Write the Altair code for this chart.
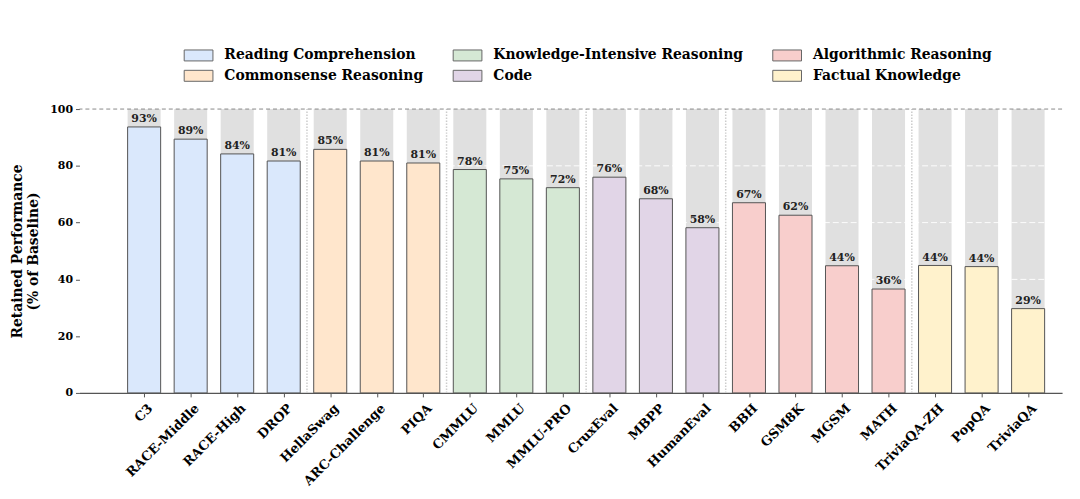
import json
import altair as alt
import pandas as pd

# ---------------- data ----------------
benchmarks = ["C3", "RACE-Middle", "RACE-High", "DROP", "HellaSwag", "ARC-Challenge",
              "PIQA", "CMMLU", "MMLU", "MMLU-PRO", "CruxEval", "MBPP", "HumanEval",
              "BBH", "GSM8K", "MGSM", "MATH", "TriviaQA-ZH", "PopQA", "TriviaQA"]
retained = [93.7, 89.4, 84.2, 81.7, 85.8, 81.7, 81.0, 78.7, 75.4, 72.3,
            76.0, 68.4, 58.2, 67.0, 62.6, 44.8, 36.6, 44.9, 44.5, 29.7]
categories = (["Reading Comprehension"] * 4 + ["Commonsense Reasoning"] * 3 +
              ["Knowledge-Intensive Reasoning"] * 3 + ["Code"] * 3 +
              ["Algorithmic Reasoning"] * 4 + ["Factual Knowledge"] * 3)
legend_order = ["Reading Comprehension", "Commonsense Reasoning", "Knowledge-Intensive Reasoning",
                "Code", "Algorithmic Reasoning", "Factual Knowledge"]
legend_colors = ["#dae8fc", "#ffe6cc", "#d5e8d4", "#e1d5e7", "#f8cecc", "#fff2cc"]
baseline = 100
y_ticks = [0, 20, 40, 60, 80, 100]
grid_values = [20, 40, 60, 80]
group_boundaries = [3.5, 6.5, 9.5, 12.5, 16.5]

df = pd.DataFrame({
    "benchmark": benchmarks,
    "idx": list(range(len(benchmarks))),
    "value": retained,
    "category": categories,
    "top": [baseline] * len(benchmarks),
    "zero": [0] * len(benchmarks),
})
grid_df = pd.DataFrame({"g": grid_values})
sep_df = pd.DataFrame({"b": group_boundaries, "lo": [0] * len(group_boundaries),
                       "hi": [baseline] * len(group_boundaries)})
base_df = pd.DataFrame({"y": [baseline]})

FONT = "DejaVu Serif"
half_w = 0.355
xscale = alt.Scale(domain=[-1.39, 19.73], nice=False, zero=False)
yscale = alt.Scale(domain=[0, 100], nice=False)

label_expr = json.dumps(benchmarks) + "[datum.value]"

x_axis = alt.Axis(values=list(range(len(benchmarks))), labelExpr=label_expr, grid=False,
                  domainColor="#555555", domainWidth=1.3, tickColor="#555555", tickSize=4,
                  labelAngle=-45, labelAlign="right", labelBaseline="middle",
                  labelFont=FONT, labelFontWeight="bold", labelFontSize=13, labelColor="#000000",
                  labelPadding=9, labelOffset=6,
                  labelOverlap=False, labelBound=False, title=None)
y_axis = alt.Axis(values=y_ticks, grid=False, domain=False, tickColor="#555555", tickSize=4,
                  labelFont=FONT, labelFontWeight="bold", labelFontSize=11, labelColor="#000000",
                  labelPadding=3,
                  title=["Retained Performance", "(% of Baseline)"], titleFont=FONT,
                  titleFontWeight="bold", titleFontSize=14, titleColor="#000000",
                  titlePadding=9, titleLineHeight=16)

with_x = alt.Chart(df).transform_calculate(
    x0=f"datum.idx - {half_w}", x1=f"datum.idx + {half_w}",
    label="floor(datum.value) + '%'"
)

gray = with_x.mark_bar(color="#e0e0e0").encode(
    x=alt.X("x0:Q", scale=xscale, axis=x_axis),
    x2="x1:Q",
    y=alt.Y("top:Q", scale=yscale, axis=y_axis),
    y2="zero:Q",
)

grid = alt.Chart(grid_df).mark_rule(color="white", strokeDash=[6, 3], strokeWidth=1, opacity=0.9).encode(
    y=alt.Y("g:Q", scale=yscale, axis=y_axis)
)

bars = with_x.mark_bar(stroke="#555555", strokeWidth=1).encode(
    x=alt.X("x0:Q", scale=xscale, axis=x_axis),
    x2="x1:Q",
    y=alt.Y("value:Q", scale=yscale, axis=y_axis),
    y2="zero:Q",
    fill=alt.Fill("category:N", scale=alt.Scale(domain=legend_order, range=legend_colors),
                  legend=alt.Legend(orient="none", legendX=111.5, legendY=-63, columns=3,
                                    title=None, labelFont=FONT, labelFontWeight="bold",
                                    labelFontSize=14, labelColor="#000000", labelLimit=400,
                                    symbolType="M-1.81,-0.69H1.81V0.69H-1.81Z", symbolSize=256,
                                    symbolStrokeColor="#666666", symbolStrokeWidth=1,
                                    symbolOpacity=1, labelOffset=17.5, columnPadding=27,
                                    rowPadding=4)),
)

seps = alt.Chart(sep_df).mark_rule(color="#cccccc", strokeDash=[1.5, 1.5], strokeWidth=1.5).encode(
    x=alt.X("b:Q", scale=xscale, axis=x_axis),
    y=alt.Y("lo:Q", scale=yscale, axis=y_axis),
    y2="hi:Q",
)

labels = with_x.mark_text(font=FONT, fontWeight="bold", fontSize=11, color="#222222",
                          baseline="bottom", dy=-3).encode(
    x=alt.X("idx:Q", scale=xscale, axis=x_axis),
    y=alt.Y("value:Q", scale=yscale, axis=y_axis),
    text="label:N",
)

top_line = alt.Chart(base_df).mark_rule(color="#888888", strokeDash=[4, 3], strokeWidth=1).encode(
    y=alt.Y("y:Q", scale=yscale, axis=y_axis)
)

chart = alt.layer(gray, grid, bars, seps, labels, top_line).properties(
    width=990, height=286,
    autosize=alt.AutoSizeParams(type="none"),
    padding={"left": 72, "top": 100, "right": 10, "bottom": 97},
).configure_view(stroke=None)

chart.save("out.html", embed_options={"renderer": "svg", "actions": False})
